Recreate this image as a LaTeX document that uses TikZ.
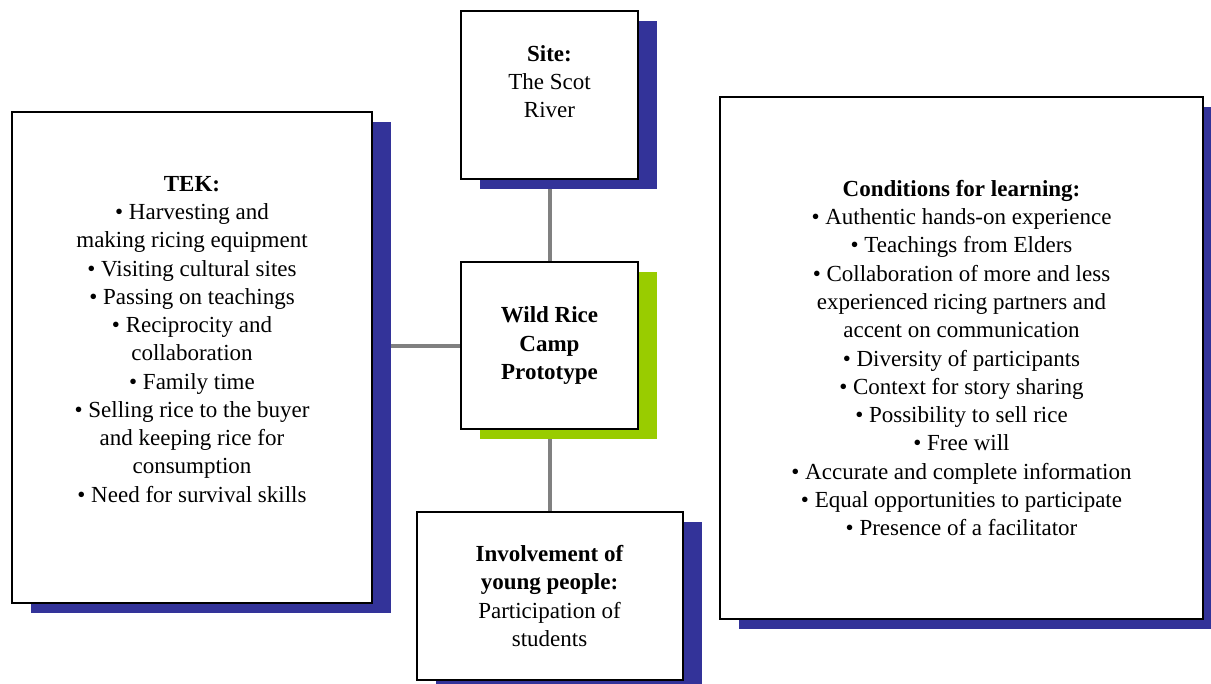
\documentclass[tikz,border=0pt]{standalone}
\usepackage{fontspec}
\setmainfont{Liberation Serif}
\usepackage{xcolor}
\usepackage{tikz}
\usetikzlibrary{positioning, shadows, backgrounds}

\definecolor{shadowblue}{HTML}{333399}
\definecolor{shadowgreen}{HTML}{99CC00}
\definecolor{linkgray}{HTML}{808080}

\begin{document}
\begin{tikzpicture}[
    x = 0.75pt, y = -0.75pt,
    node distance = 60.75pt and 65pt,
    box/.style = {rectangle, draw=black, line width=1.5pt, fill=white, align=center, inner sep=4pt, font=\fontsize{17.25}{21.2}\selectfont, drop shadow={opacity=1, fill=#1, shadow xshift=14.25pt, shadow yshift=-7.5pt}},
    box/.default = shadowblue,
    link/.style = {draw=linkgray, line width=3pt}
]
    \useasboundingbox (0,0) rectangle (1211,683);

    \node [box=shadowgreen, minimum width=132.75pt, minimum height=125.25pt] (hub) at (549.5,345.5)
        {\textbf{Wild Rice}\\ \textbf{Camp}\\ \textbf{Prototype}};
    \node [box, minimum width=132.75pt, minimum height=126pt, above=of hub] (site)
        {\textbf{Site:}\\ The Scot\\ River\\[-7pt] \strut};
    \node [box, minimum width=199.5pt, minimum height=126pt, below=of hub] (youth)
        {\textbf{Involvement of}\\ \textbf{young people:}\\ Participation of\\ students};
    \node [box, minimum width=270pt, minimum height=368.25pt, left=65.25pt of hub, yshift=-9pt] (tek)
        {\textbf{TEK:}\\ • Harvesting and\\ making ricing equipment\\ • Visiting cultural sites\\
         • Passing on teachings\\ • Reciprocity and\\ collaboration\\ • Family time\\
         • Selling rice to the buyer\\ and keeping rice for\\ consumption\\ • Need for survival skills\\ \strut};
    \node [box, minimum width=362.25pt, minimum height=391.5pt, right=60pt of hub, yshift=-9.4pt] (cond)
        {\textbf{Conditions for learning:}\\ • Authentic hands-on experience\\ • Teachings from Elders\\
         • Collaboration of more and less\\ experienced ricing partners and\\ accent on communication\\
         • Diversity of participants\\ • Context for story sharing\\ • Possibility to sell rice\\
         • Free will\\ • Accurate and complete information\\ • Equal opportunities to participate\\
         • Presence of a facilitator};

    \begin{scope}[on background layer]
        \path [link] (site) -- (hub);
        \path [link] (hub) -- (youth);
        \path [link] (hub.west) -- (hub.west -| tek.east);
    \end{scope}
\end{tikzpicture}
\end{document}
